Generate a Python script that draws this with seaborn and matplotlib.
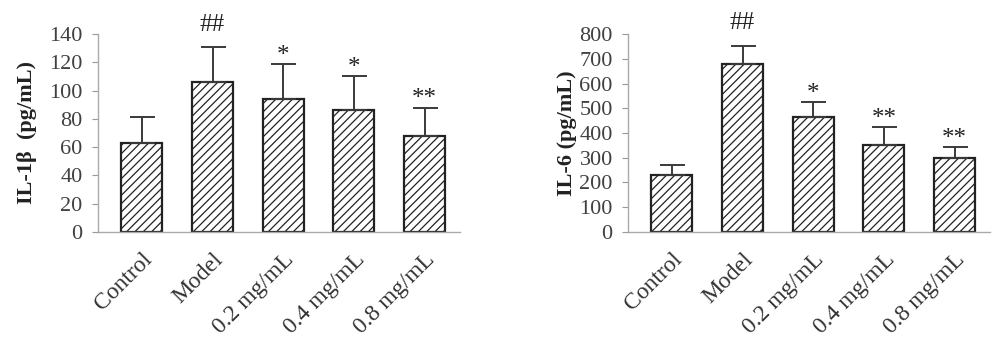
import numpy as np
import pandas as pd
import matplotlib
matplotlib.use('Agg')
import matplotlib.pyplot as plt
import seaborn as sns

groups = ['Control', 'Model', '0.2 mg/mL', '0.4 mg/mL', '0.8 mg/mL']
il1b_mean = [63, 106, 94, 86, 68]
il1b_sd = [18.5, 24.5, 24.5, 24, 20]
il6_mean = [230, 677, 463, 353, 297]
il6_sd = [42, 74, 63, 70, 45]
marks = ['', '##', '*', '*', '**']
marks_il6 = ['', '##', '*', '**', '**']

sns.set_style('white')
plt.rcParams['font.family'] = ['Liberation Serif', 'DejaVu Serif']
plt.rcParams['hatch.linewidth'] = 0.9

fig = plt.figure(figsize=(10, 3.58), dpi=100)
ax1 = fig.add_axes([0.098, 0.352, 0.362, 0.553])
ax2 = fig.add_axes([0.628, 0.352, 0.362, 0.553])

panels = [
    (ax1, il1b_mean, il1b_sd, marks, 'IL-1β  (pg/mL)', 140, 20, 9),
    (ax2, il6_mean, il6_sd, marks_il6, 'IL-6 (pg/mL)', 800, 100, 2),
]

for ax, mean, sd, mk, label, ymax, step, lpad in panels:
    df = pd.DataFrame({'group': groups, 'value': mean, 'sd': sd})
    sns.barplot(data=df, x='group', y='value', ax=ax, color='white',
                edgecolor='#222222', linewidth=1.6, width=0.58,
                errorbar=None, hatch='////')
    x = np.arange(len(groups))
    ax.errorbar(x, df['value'], yerr=[np.zeros(len(sd)), df['sd']],
                fmt='none', ecolor='#3a3a3a', elinewidth=1.4,
                capsize=9, capthick=1.4, zorder=1)
    for xi, m, s, t in zip(x, mean, sd, mk):
        if t:
            off = 12 if '#' in t else 1.5
            ax.annotate(t, (xi, m + s), xytext=(0, off), textcoords='offset points',
                        ha='center', va='baseline', fontsize=18, color='#222222',
                        annotation_clip=False)
    ax.set_xlim(-0.62, 4.5)
    ax.set_ylim(0, ymax)
    ax.set_yticks(np.arange(0, ymax + 1, step))
    ax.set_xlabel('')
    ax.set_ylabel(label, fontsize=16, fontweight='bold', color='#222222', labelpad=lpad)
    ax.tick_params(axis='y', labelsize=16, labelcolor='#404040', length=4,
                   left=True, width=0.8, pad=7, color='#999999')
    ax.tick_params(axis='x', labelsize=17, labelcolor='#333333', length=0, pad=12)
    for lab in ax.get_xticklabels():
        lab.set_rotation(45)
        lab.set_ha('right')
        lab.set_rotation_mode('anchor')
    for side in ['top', 'right']:
        ax.spines[side].set_visible(False)
    ax.spines['left'].set_color('#aaaaaa')
    ax.spines['bottom'].set_color('#aaaaaa')
    ax.spines['left'].set_linewidth(1.0)
    ax.spines['bottom'].set_linewidth(1.0)

fig.savefig('out.png', dpi=100)
